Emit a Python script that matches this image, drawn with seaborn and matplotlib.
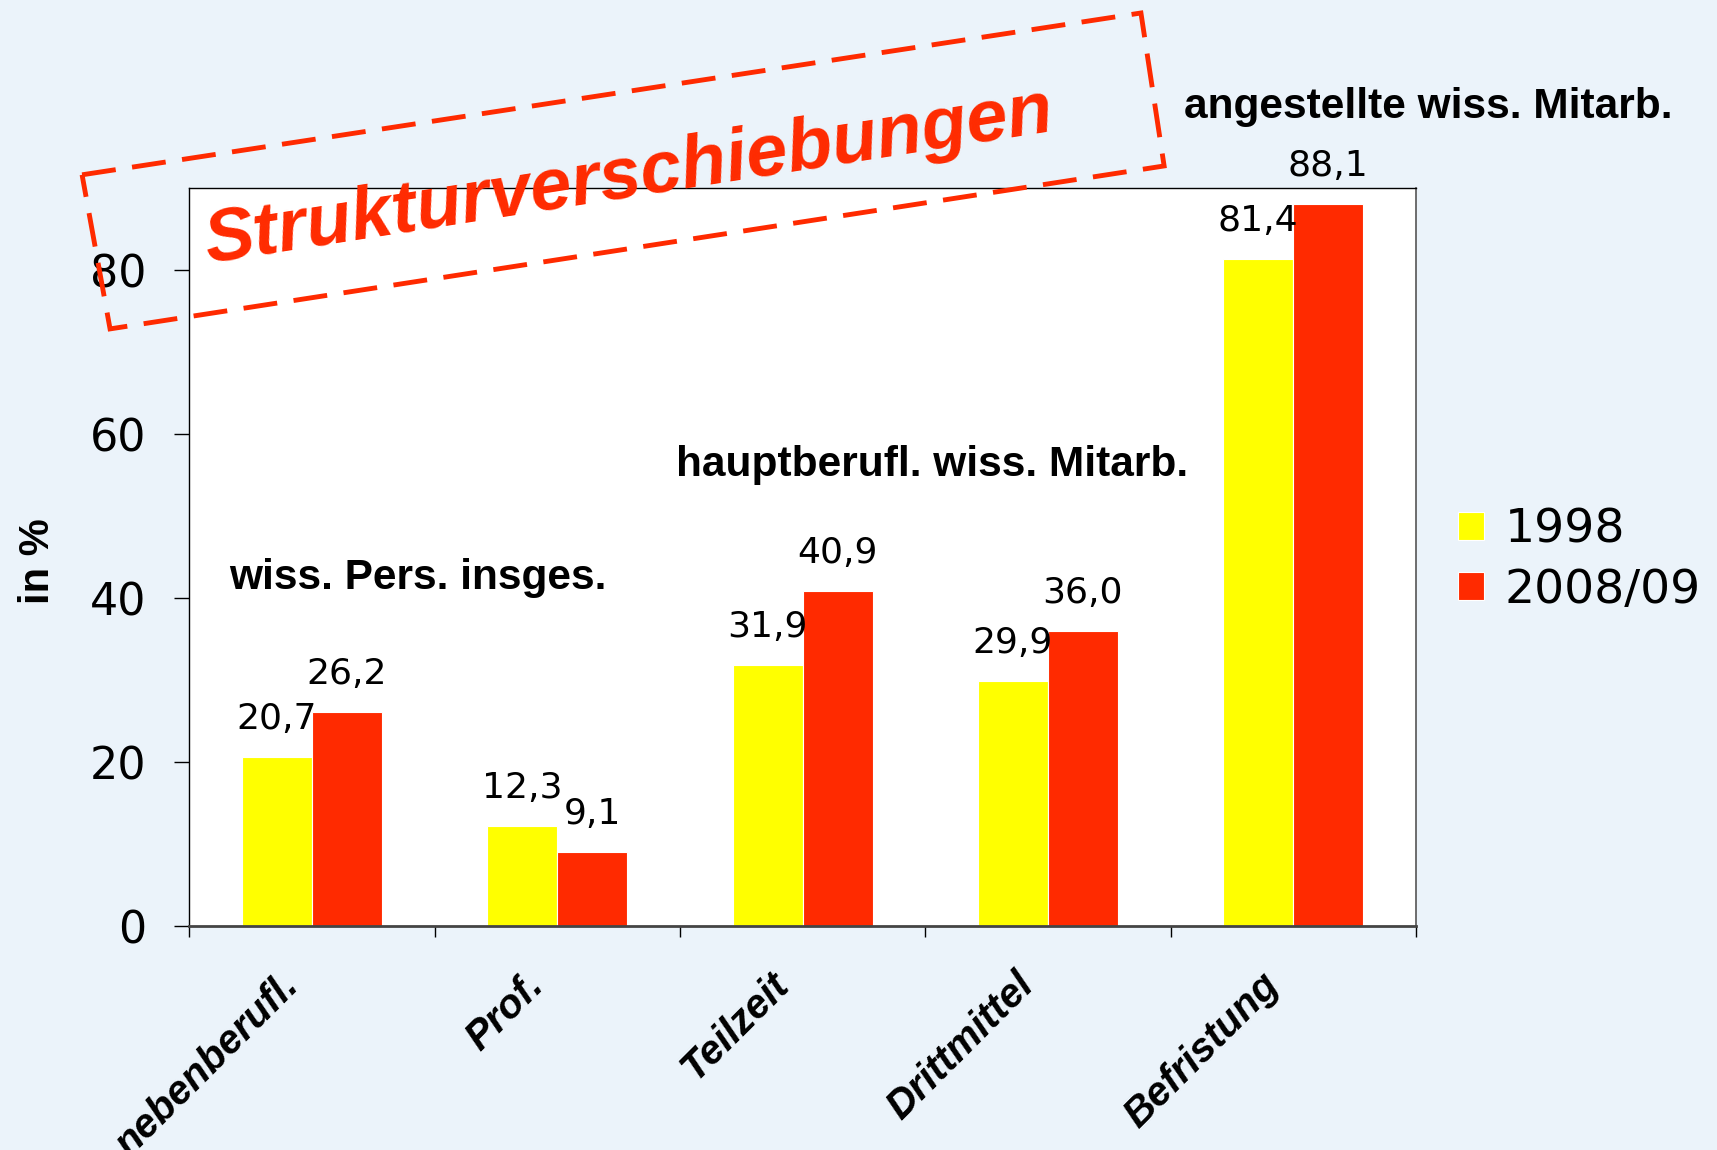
import numpy as np
import pandas as pd
import matplotlib
matplotlib.use("Agg")
import matplotlib.pyplot as plt
from matplotlib.patches import Polygon
from matplotlib.transforms import ScaledTranslation
import seaborn as sns

# data
categories = ["nebenberufl.", "Prof.", "Teilzeit", "Drittmittel", "Befristung"]
years = ["1998", "2008/09"]
v1998 = [20.7, 12.3, 31.9, 29.9, 81.4]
v2008 = [26.2, 9.1, 40.9, 36.0, 88.1]

df = pd.DataFrame({
    "Kategorie": categories * 2,
    "Jahr": [years[0]] * 5 + [years[1]] * 5,
    "Wert": v1998 + v2008,
})

sns.set_style("white")
plt.rcParams['font.family'] = ['DejaVu Sans']
plt.rcParams['text.color'] = 'black'
plt.rcParams['xtick.color'] = 'black'
plt.rcParams['ytick.color'] = 'black'
plt.rcParams['axes.labelcolor'] = 'black'

bg = "#EBF3FA"
yellow = "#FFFF00"
red = "#FF2A00"

fig = plt.figure(figsize=(17.17, 11.5), dpi=100)
fig.patch.set_facecolor(bg)
ax = fig.add_axes([0.1103, 0.1944, 0.7143, 0.6419])
ax.set_facecolor("white")

sns.barplot(data=df, x="Kategorie", y="Wert", hue="Jahr",
            palette=[yellow, red], width=0.57, gap=0,
            edgecolor="white", linewidth=0.8, saturation=1, ax=ax)

handles, labels = ax.get_legend_handles_labels()
if ax.legend_ is not None:
    ax.legend_.remove()

# value labels with decimal comma
for cont, vals in zip(ax.containers, [v1998, v2008]):
    ax.bar_label(cont, labels=[f"{v:.1f}".replace(".", ",") for v in vals],
                 padding=15, fontsize=26, color="black")

ax.set_xlim(-0.5, 4.5)
ax.set_ylim(0, 90)
ax.set_yticks([0, 20, 40, 60, 80])
ax.set_xlabel("")
ax.set_ylabel("")
ax.tick_params(axis="y", length=11, width=1, pad=20, labelsize=32, left=True)

ax.set_xticks(range(5))
ax.set_xticks(np.arange(-0.5, 5, 1), minor=True)
ax.tick_params(axis="x", which="major", length=0, pad=38)
ax.tick_params(axis="x", which="minor", length=8, width=1, direction="out", bottom=True)
ax.set_xticklabels(categories, rotation=45, ha="right", va="center",
                   rotation_mode="anchor", fontsize=29, fontweight="bold",
                   fontstyle="italic", family="Liberation Sans")
shift = ScaledTranslation(-0.20, 0, fig.dpi_scale_trans)
for lbl in ax.get_xticklabels():
    lbl.set_transform(lbl.get_transform() + shift)

for s in ["left", "top"]:
    ax.spines[s].set_color("black")
    ax.spines[s].set_linewidth(1)
ax.spines["right"].set_color("#555555")
ax.spines["right"].set_linewidth(1.2)
ax.spines["bottom"].set_color("#444444")
ax.spines["bottom"].set_linewidth(2)

# group captions
ax.text(0.433, 42.5, "wiss. Pers. insges.", ha="center", va="center",
        fontsize=30.5, fontweight="bold", family="Liberation Sans")
ax.text(2.527, 56.3, "hauptberufl. wiss. Mitarb.", ha="center", va="center",
        fontsize=30.5, fontweight="bold", family="Liberation Sans")
fig.text(0.8317, 0.907, "angestellte wiss. Mitarb.", ha="center", va="center",
         fontsize=30.5, fontweight="bold", family="Liberation Sans")

fig.text(0.022, 0.512, "in %", rotation=90, ha="center", va="center",
         fontsize=30, fontweight="bold", family="Liberation Sans")

# legend
fig.legend(handles, labels, loc="center left", bbox_to_anchor=(0.849, 0.513),
           frameon=False, fontsize=34, handlelength=0.55, handleheight=0.55,
           handletextpad=0.45, labelspacing=0.32, borderpad=0, borderaxespad=0)

# rotated stamp
box = Polygon([(0.0478, 0.848), (0.6645, 0.9887), (0.678, 0.8557), (0.0641, 0.714)],
              closed=True, fill=False, edgecolor=red, linewidth=3.5,
              linestyle=(0, (7, 3.4)), transform=fig.transFigure, zorder=5)
fig.add_artist(box)
fig.text(0.366, 0.846, "Strukturverschiebungen", rotation=8.9, ha="center", va="center",
         rotation_mode="anchor", color=red, fontsize=53.5, fontweight="bold",
         fontstyle="italic", family="Liberation Sans", zorder=6)

fig.savefig("out.png", dpi=100, facecolor=bg)
